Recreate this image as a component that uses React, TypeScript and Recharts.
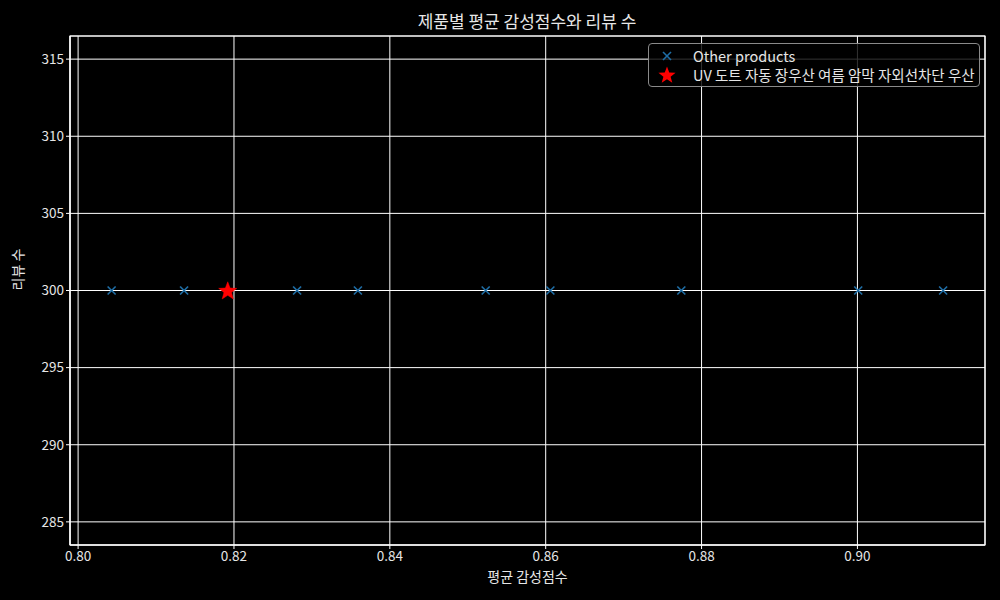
import React from 'react';
import {
  ScatterChart, Scatter, XAxis, YAxis, CartesianGrid, ReferenceArea, Label,
} from 'recharts';

const otherScores = [0.8043, 0.8136, 0.8281, 0.8359, 0.8523, 0.8606, 0.8774, 0.9001, 0.9110];
const otherReviews = [300, 300, 300, 300, 300, 300, 300, 300, 300];
const highlightScores = [0.8192];
const highlightReviews = [300];
const highlightName = 'UV 도트 자동 장우산 여름 암막 자외선차단 우산';
const otherName = 'Other products';
const xTicks = [0.8, 0.82, 0.84, 0.86, 0.88, 0.9];
const yTicks = [285, 290, 295, 300, 305, 310, 315];
const xDomain = [0.79896, 0.91637];
const yDomain = [283.5, 316.5];

const otherData = otherScores.map((s, i) => ({ score: s, reviews: otherReviews[i] }));
const highlightData = highlightScores.map((s, i) => ({ score: s, reviews: highlightReviews[i] }));

const FONT = '"Noto Sans CJK KR", "Noto Sans", sans-serif';
const BLUE = '#1f6ea6';
const TEXT = '#e6e6e6';

const starPath = (cx: number, cy: number, r: number) => {
  const pts: string[] = [];
  for (let i = 0; i < 10; i++) {
    const rad = i % 2 === 0 ? r : r * 0.42;
    const a = -Math.PI / 2 + (i * Math.PI) / 5;
    pts.push(`${cx + rad * Math.cos(a)},${cy + rad * Math.sin(a)}`);
  }
  return `M${pts.join('L')}Z`;
};

const XShape = (props: any) => {
  const { cx, cy } = props;
  const h = 4;
  return (
    <g stroke={BLUE} strokeWidth={1.6}>
      <line x1={cx - h} y1={cy - h} x2={cx + h} y2={cy + h} />
      <line x1={cx - h} y1={cy + h} x2={cx + h} y2={cy - h} />
    </g>
  );
};

const StarShape = (props: any) => {
  const { cx, cy } = props;
  return <path d={starPath(cx, cy + 0.8, 9.5)} fill="#ff0000" stroke="#ff0000" strokeWidth={0.5} />;
};

const LegendBox = () => (
  <div
    style={{
      position: 'absolute',
      left: 648,
      top: 43,
      border: '1px solid #8a8a8a',
      borderRadius: 4,
      background: 'rgba(0,0,0,0.8)',
      padding: '2px 0',
      fontFamily: FONT,
      fontSize: 14.5,
      color: TEXT,
      width: 332,
      boxSizing: 'border-box',
      whiteSpace: 'nowrap',
    }}
  >
    <div style={{ display: 'flex', alignItems: 'center', height: 19 }}>
      <svg width={44} height={19}>
        <g stroke={BLUE} strokeWidth={1.6}>
          <line x1={14} y1={6} x2={22} y2={14} />
          <line x1={14} y1={14} x2={22} y2={6} />
        </g>
      </svg>
      <span>{otherName}</span>
    </div>
    <div style={{ display: 'flex', alignItems: 'center', height: 19 }}>
      <svg width={44} height={19}>
        <path d={starPath(18, 10.5, 9)} fill="#ff0000" />
      </svg>
      <span>{highlightName}</span>
    </div>
  </div>
);

export default function App() {
  return (
    <div style={{ position: 'fixed', left: 0, top: 0, width: 1000, height: 600, background: '#000' }}>
      <div
        style={{
          position: 'absolute', left: 0, top: 9, width: 1054, textAlign: 'center',
          fontFamily: FONT, fontSize: 17, color: TEXT, lineHeight: '24px',
        }}
      >
        제품별 평균 감성점수와 리뷰 수
      </div>
      <ScatterChart
        width={1000}
        height={600}
        margin={{ top: 36, right: 15, bottom: 0, left: 0 }}
        style={{ fontFamily: FONT }}
      >
        <CartesianGrid stroke="#ffffff" strokeWidth={1} />
        <XAxis
          type="number"
          dataKey="score"
          domain={xDomain}
          ticks={xTicks}
          allowDataOverflow
          height={55}
          tickFormatter={(v: number) => v.toFixed(2)}
          tick={{ fill: TEXT, fontSize: 13.5 }}
          tickSize={4}
          tickLine={{ stroke: '#fff' }}
          axisLine={{ stroke: '#fff' }}
        >
          <Label value="평균 감성점수" position="insideTop" offset={27} fill={TEXT} fontSize={14} />
        </XAxis>
        <YAxis
          type="number"
          dataKey="reviews"
          domain={yDomain}
          ticks={yTicks}
          allowDataOverflow
          width={70}
          tick={{ fill: TEXT, fontSize: 13.5 }}
          tickSize={4}
          tickLine={{ stroke: '#fff' }}
          axisLine={{ stroke: '#fff' }}
        >
          <Label value="리뷰 수" angle={-90} position="insideLeft" offset={18} fill={TEXT} fontSize={14} />
        </YAxis>
        <ReferenceArea
          x1={xDomain[0]} x2={xDomain[1]} y1={yDomain[0]} y2={yDomain[1]}
          fill="none" stroke="#fff" strokeWidth={1.2} ifOverflow="visible"
        />
        <Scatter name={otherName} data={otherData} shape={XShape} isAnimationActive={false} />
        <Scatter name={highlightName} data={highlightData} shape={StarShape} isAnimationActive={false} />
      </ScatterChart>
      <LegendBox />
    </div>
  );
}
